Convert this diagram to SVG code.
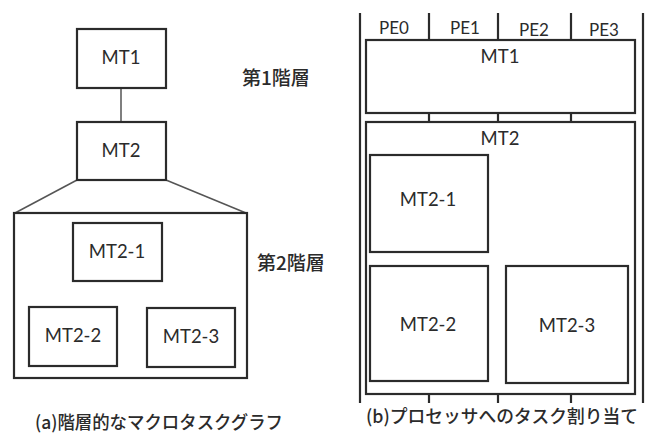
<svg xmlns="http://www.w3.org/2000/svg" width="648" height="435" viewBox="0 0 648 435">
<style>
.bg{fill:#fff}
.box{fill:#fff;stroke:#2b2b2b;stroke-width:2.2}
.ln{fill:none;stroke:#555;stroke-width:1.5}
.grid{fill:none;stroke:#2b2b2b;stroke-width:2.2}
.t{font-family:Lato,"Open Sans","Noto Sans CJK JP",sans-serif;font-size:18.5px;fill:#2b2b2b;text-anchor:middle}
.j{font-family:"Noto Sans CJK JP","Noto Sans CJK SC",sans-serif;font-size:19px;fill:#2b2b2b;font-weight:500}
.c{font-family:"Noto Sans CJK JP","Noto Sans CJK SC",sans-serif;font-size:18px;fill:#2b2b2b;font-weight:500}
.pe{font-family:Lato,"Open Sans",sans-serif;font-size:17px;fill:#2b2b2b;text-anchor:middle}
</style>
<rect class="bg" width="648" height="435"/>
<g id="connectors">
<line class="ln" x1="121" y1="88" x2="121" y2="122"/>
<line class="ln" x1="77" y1="180" x2="15" y2="213"/>
<line class="ln" x1="166" y1="180" x2="246" y2="213"/>
<line class="ln" x1="115" y1="281" x2="76" y2="307"/>
<line class="ln" x1="115" y1="281" x2="187" y2="308"/>
</g>
<g id="mt1-a"><rect class="box" x="77" y="29" width="89" height="59"/><text class="t" x="121" y="64">MT1</text></g>
<g id="mt2-a"><rect class="box" x="77" y="122" width="89" height="58"/><text class="t" x="121" y="157">MT2</text></g>
<g id="layer2-a"><rect class="box" x="14" y="213" width="233" height="165"/></g>
<g id="mt2-1-a"><rect class="box" x="73" y="223" width="89" height="58"/><text class="t" x="117" y="258">MT2-1</text></g>
<g id="mt2-2-a"><rect class="box" x="29" y="307" width="88" height="59"/><text class="t" x="73" y="342">MT2-2</text></g>
<g id="mt2-3-a"><rect class="box" x="147" y="308" width="88" height="59"/><text class="t" x="191" y="343">MT2-3</text></g>
<g id="labels-a">
<text class="j" x="242" y="85">第1階層</text>
<text class="j" x="257" y="270">第2階層</text>
<text class="c" x="35" y="429" textLength="248" lengthAdjust="spacingAndGlyphs">(a)階層的なマクロタスクグラフ</text>
</g>
<g id="pe-grid">
<line class="grid" x1="360" y1="13" x2="360" y2="403"/>
<line class="grid" x1="643" y1="13" x2="643" y2="403"/>
<line class="grid" x1="429" y1="13" x2="429" y2="403"/>
<line class="grid" x1="498" y1="13" x2="498" y2="403"/>
<line class="grid" x1="571" y1="13" x2="571" y2="403"/>
<text class="pe" x="394" y="34">PE0</text>
<text class="pe" x="465" y="34">PE1</text>
<text class="pe" x="534" y="36">PE2</text>
<text class="pe" x="604" y="36">PE3</text>
</g>
<g id="mt1-b"><rect class="box" x="366" y="40" width="269" height="73"/><text class="t" x="500" y="63">MT1</text></g>
<g id="mt2-b"><rect class="box" x="366" y="122" width="269" height="272"/><text class="t" x="500" y="145">MT2</text></g>
<g id="mt2-1-b"><rect class="box" x="370" y="155" width="118" height="97"/><text class="t" x="428" y="206">MT2-1</text></g>
<g id="mt2-2-b"><rect class="box" x="370" y="266" width="118" height="115"/><text class="t" x="428" y="331">MT2-2</text></g>
<g id="mt2-3-b"><rect class="box" x="506" y="266" width="122" height="117"/><text class="t" x="567" y="332">MT2-3</text></g>
<g id="labels-b">
<text class="c" x="366" y="423" textLength="272" lengthAdjust="spacingAndGlyphs">(b)プロセッサへのタスク割り当て</text>
</g>
</svg>
